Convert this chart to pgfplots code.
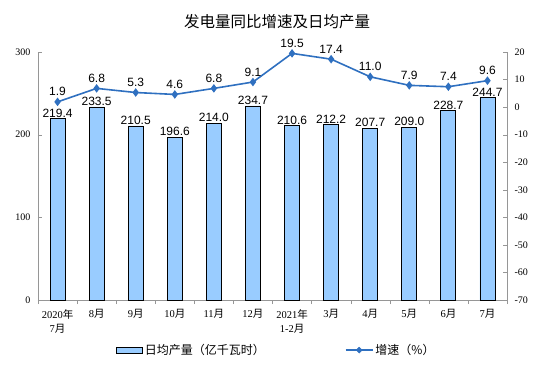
\documentclass[border=0pt]{standalone}
\usepackage{pgfplots}
\pgfplotsset{compat=1.18}
\usepackage{fontspec}
\setmainfont{Liberation Serif}
\newfontfamily\cjk{Noto Sans CJK SC}
\newfontfamily\arial{Liberation Sans}
\definecolor{barfill}{RGB}{153,204,255}
\definecolor{linec}{RGB}{47,112,192}
\definecolor{axgray}{RGB}{150,150,150}
\begin{document}
\begin{tikzpicture}[x=1pt,y=1pt]
\path[use as bounding box] (0,0) rectangle (554,381);
\node[font=\cjk\fontsize{15.5}{18}\selectfont] at (277,359) {发电量同比增速及日均产量};
\begin{axis}[
  at={(38pt,81pt)}, anchor=south west, scale only axis,
  width=469pt, height=248pt,
  xmin=-0.5, xmax=11.5, ymin=0, ymax=300,
  ytick={0,100,200,300},
  axis y line*=left, axis x line*=bottom,
  axis line style={draw=axgray},
  tick align=inside,
  major tick length=4pt, minor tick length=4pt,
  tick style={axgray},
  xtick={0,...,11},
  major x tick style={draw=none},
  minor xtick={-0.5,0.5,...,11.5},
  xticklabels={{2020{\cjk 年}\\7{\cjk 月}},{8\cjk 月},{9\cjk 月},{10\cjk 月},{11\cjk 月},{12\cjk 月},{2021{\cjk 年}\\1-2{\cjk 月}},{3\cjk 月},{4\cjk 月},{5\cjk 月},{6\cjk 月},{7\cjk 月}},
  xticklabel style={align=center, font=\fontsize{10.5}{14}\selectfont, yshift=-2pt},
  yticklabel style={font=\fontsize{10}{11}\selectfont, xshift=-4pt},
  /pgf/number format/assume math mode=true,
  ybar, bar width=15pt,
  nodes near coords,
  nodes near coords style={black, font=\arial\fontsize{12}{13}\selectfont, inner sep=1pt, /pgf/number format/.cd, fixed, fixed zerofill, precision=1, assume math mode=true},
  legend style={draw=none, fill=none, at={(0.508,-0.202)}, anchor=center,
    legend columns=2, font=\cjk\fontsize{12}{14}\selectfont,
    /tikz/every even column/.append style={column sep=78pt}},
  legend image code/.code={\draw[#1] (0pt,-3pt) rectangle (26pt,3pt);},
]
\addplot[fill=barfill, draw=black, line width=0.9pt] coordinates {
(0,219.4) (1,233.5) (2,210.5) (3,196.6) (4,214.0) (5,234.7)
(6,210.6) (7,212.2) (8,207.7) (9,209.0) (10,228.7) (11,244.7)};
\addlegendentry{日均产量（亿千瓦时）}
\addlegendimage{legend image code/.code={\draw[linec, line width=1.6pt] (0pt,0pt) -- (27pt,0pt); \fill[linec] (13.5pt,0pt) +(0,3pt) -- +(3pt,0) -- +(0,-3pt) -- +(-3pt,0) -- cycle;}}
\addlegendentry{增速（\%）}
\end{axis}
\begin{axis}[
  at={(38pt,81pt)}, anchor=south west, scale only axis,
  width=469pt, height=248pt,
  xmin=-0.5, xmax=11.5, ymin=-70, ymax=20,
  ytick={-70,-60,...,20},
  axis y line*=right, axis x line=none,
  axis line style={draw=axgray},
  tick align=inside, major tick length=4pt,
  tick style={axgray},
  yticklabel style={font=\fontsize{10}{11}\selectfont, xshift=4pt},
  /pgf/number format/assume math mode=true,
  nodes near coords,
  nodes near coords style={black, font=\arial\fontsize{12}{13}\selectfont, inner sep=1pt, yshift=4pt, /pgf/number format/.cd, fixed, fixed zerofill, precision=1, assume math mode=true},
]
\addplot[linec, line width=1.6pt, mark=diamond*, mark size=3pt, mark options={fill=linec, draw=linec}] coordinates {
(0,1.9) (1,6.8) (2,5.3) (3,4.6) (4,6.8) (5,9.1)
(6,19.5) (7,17.4) (8,11.0) (9,7.9) (10,7.4) (11,9.6)};
\end{axis}
\end{tikzpicture}
\end{document}
